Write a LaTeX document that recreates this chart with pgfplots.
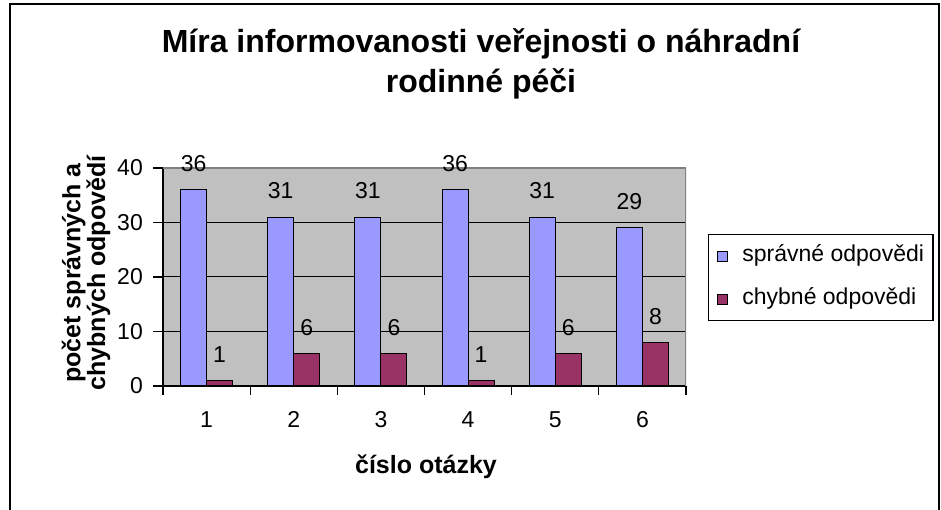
\documentclass[border=0pt]{standalone}
\usepackage{pgfplots}
\pgfplotsset{compat=1.18}
\usepackage{fontspec}
\setmainfont{Liberation Sans}
\definecolor{barblue}{HTML}{9999FF}
\definecolor{barred}{HTML}{993366}
\definecolor{plotgray}{HTML}{C0C0C0}
\definecolor{bordergray}{HTML}{808080}
\pgfplotstableread{
pos  ok  bad
0.5  36  1
1.5  31  6
2.5  31  6
3.5  36  1
4.5  31  6
5.5  29  8
}\datatab
\begin{document}
\begin{tikzpicture}[x=1pt,y=1pt]
\useasboundingbox (-163,-124) rectangle (778,386);
\draw[line width=1.5pt] (-153,-134) -- (-153,382) -- (776,382) -- (776,-134);
\node[font=\fontsize{32}{38}\selectfont\bfseries, anchor=base] at (318,333) {Míra informovanosti veřejnosti o náhradní};
\node[font=\fontsize{32}{38}\selectfont\bfseries, anchor=base] at (318,293) {rodinné péči};
\node[font=\fontsize{25}{22}\selectfont\bfseries, align=center, rotate=90] at (-77,113) {počet správných a\\chybných odpovědí};
\node[font=\fontsize{25}{28}\selectfont\bfseries, anchor=base] at (263,-88) {číslo otázky};
\begin{axis}[
  at={(0,0)}, anchor=origin,
  scale only axis, width=523pt, height=218pt,
  xmin=0, xmax=6, ymin=0, ymax=40,
  ybar=0pt, bar width=26pt,
  axis background/.style={fill=plotgray},
  axis x line*=bottom, axis y line*=left,
  axis line style={line width=1.3pt, -},
  xtick={0.5,1.5,...,5.5},
  xticklabels={1,2,3,4,5,6},
  major x tick style={draw=none},
  extra x ticks={0,1,...,6},
  extra x tick labels={},
  extra x tick style={xtick align=outside, major tick length=9pt, major x tick style={draw=black, line width=1.3pt}},
  ytick={0,10,...,40},
  ytick align=outside,
  major y tick style={line width=1.3pt, black},
  major tick length=10pt,
  ymajorgrids, grid style={black, line width=1pt},
  tick label style={font=\fontsize{23}{27}\selectfont},
  xticklabel style={anchor=center, text height=16.5pt, text depth=0pt, yshift=-23pt},
  yticklabel style={anchor=east, inner sep=0pt, xshift=-10pt},
  /pgf/number format/assume math mode=true,
  nodes near coords,
  every node near coord/.append style={font=\fontsize{23}{27}\selectfont, yshift=14pt, black},
  legend style={at={(axis description cs:1.0421,0.6972)}, anchor=north west,
    draw=black, line width=1.2pt, fill=white,
    font=\fontsize{23}{27}\selectfont,
    inner xsep=8pt, inner ysep=10pt, row sep=20pt, column sep=14pt,
    nodes={inner sep=1pt, text height=16pt, text depth=5pt}},
  legend cell align=left,
]
\addplot[fill=barblue, draw=black, line width=1pt,
  legend image code/.code={\draw[fill=barblue, draw=black, line width=0.8pt] (0pt,-5pt) rectangle (10pt,5pt);}]
  table[x=pos, y=ok] {\datatab};
\addplot[fill=barred, draw=black, line width=1pt,
  legend image code/.code={\draw[fill=barred, draw=black, line width=0.8pt] (0pt,-5pt) rectangle (10pt,5pt);}]
  table[x=pos, y=bad] {\datatab};
\legend{správné odpovědi, chybné odpovědi}
\draw[bordergray, line width=1.3pt] (rel axis cs:0,1) -- (rel axis cs:1,1) -- (rel axis cs:1,0);
\end{axis}
\end{tikzpicture}
\end{document}
